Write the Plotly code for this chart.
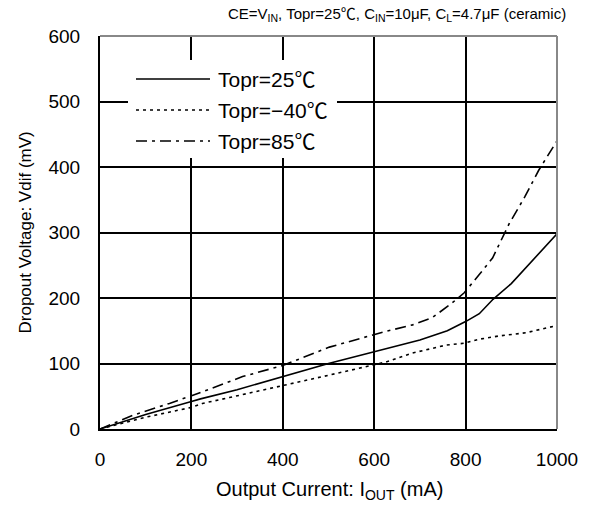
import plotly.graph_objects as go

# Data
i_25 = [0, 100, 200, 220, 300, 400, 500, 600, 700, 760, 800, 830, 860, 900, 950, 1000]
v_25 = [0, 22, 42, 46, 60, 80, 100, 118, 136, 150, 164, 176, 198, 222, 260, 298]

i_m40 = [0, 100, 200, 224, 283, 400, 487, 600, 629, 684, 757, 797, 829, 873, 932, 1000]
v_m40 = [0, 18, 33, 39, 48, 67, 80, 98, 103, 116, 128, 131, 137, 142, 147, 158]

i_85 = [0, 72, 152, 217, 312, 400, 502, 600, 620, 684, 727, 768, 797, 829, 859, 895, 930, 960, 1000]
v_85 = [0, 21, 39, 55, 80, 97, 125, 145, 148, 159, 170, 191, 208, 235, 261, 313, 355, 395, 440]

legend_names = ["Topr=25℃", "Topr=−40℃", "Topr=85℃"]
x_ticks = [0, 200, 400, 600, 800, 1000]
y_ticks = [0, 100, 200, 300, 400, 500, 600]

FONT = "Liberation Sans, Noto Sans CJK JP, sans-serif"
dashes = ["solid", "3px,4px", "11px,5px,3px,5px"]

fig = go.Figure()
for xs, ys, d, n in zip([i_25, i_m40, i_85], [v_25, v_m40, v_85], dashes, legend_names):
    fig.add_trace(go.Scatter(x=xs, y=ys, mode="lines", name=n,
                             line=dict(color="black", width=1.6, dash=d),
                             showlegend=False))

W, H = 589, 508
L, R, T, B = 100, 32, 36, 79
pw, ph = W - L - R, H - T - B

def px_x(p):
    return (p - L) / pw

def px_y(p):
    return 1 - (p - T) / ph

shapes = []
# legend white box
shapes.append(dict(type="rect", xref="paper", yref="paper",
                   x0=px_x(128), x1=px_x(337), y0=px_y(158), y1=px_y(60),
                   fillcolor="white", line=dict(width=0), layer="above"))
annotations = []
rows = [79, 110, 141]
for r, d, n in zip(rows, dashes, legend_names):
    shapes.append(dict(type="line", xref="paper", yref="paper",
                       x0=px_x(136), x1=px_x(210), y0=px_y(r), y1=px_y(r),
                       line=dict(color="black", width=1.6, dash=d), layer="above"))
    annotations.append(dict(xref="paper", yref="paper", x=px_x(216), y=px_y(r),
                            text=n, showarrow=False, xanchor="left", yanchor="middle",
                            font=dict(size=21, color="black", family=FONT)))
# top and right frame (grey)
shapes.append(dict(type="line", xref="paper", yref="paper", x0=1, x1=1, y0=0, y1=1,
                   line=dict(color="#888888", width=2), layer="above"))
shapes.append(dict(type="line", xref="paper", yref="paper", x0=0, x1=1, y0=1, y1=1,
                   line=dict(color="#888888", width=2), layer="above"))

annotations.append(dict(xref="paper", yref="paper", x=px_x(568), y=px_y(14),
                        text="CE=V<sub>IN</sub>, Topr=25℃, C<sub>IN</sub>=10μF, C<sub>L</sub>=4.7μF (ceramic)",
                        showarrow=False, xanchor="right", yanchor="middle",
                        font=dict(size=15, color="black", family=FONT)))
annotations.append(dict(xref="paper", yref="paper", x=px_x(25), y=0.5,
                        text="Dropout Voltage: Vdif (mV)", textangle=-90,
                        showarrow=False, xanchor="center", yanchor="middle",
                        font=dict(size=17, color="black", family=FONT)))
annotations.append(dict(xref="paper", yref="paper", x=px_x(329), y=px_y(490),
                        text="Output Current: I<sub>OUT</sub> (mA)",
                        showarrow=False, xanchor="center", yanchor="middle",
                        font=dict(size=20, color="black", family=FONT)))

fig.update_layout(
    width=W, height=H,
    margin=dict(l=L, r=R, t=T, b=B),
    paper_bgcolor="white", plot_bgcolor="white",
    font=dict(family=FONT, color="black"),
    shapes=shapes, annotations=annotations,
    xaxis=dict(range=[0, 1000], tickvals=x_ticks, showgrid=True, gridcolor="black",
               gridwidth=2, zeroline=False, showline=True, linecolor="black", linewidth=2,
               ticks="", ticklabelstandoff=12, tickfont=dict(size=19, family=FONT)),
    yaxis=dict(range=[0, 600], tickvals=y_ticks, showgrid=True, gridcolor="black",
               gridwidth=2, zeroline=False, showline=True, linecolor="black", linewidth=2,
               ticks="", ticklabelstandoff=14, tickfont=dict(size=19, family=FONT)),
)

fig.write_html("out.html")
